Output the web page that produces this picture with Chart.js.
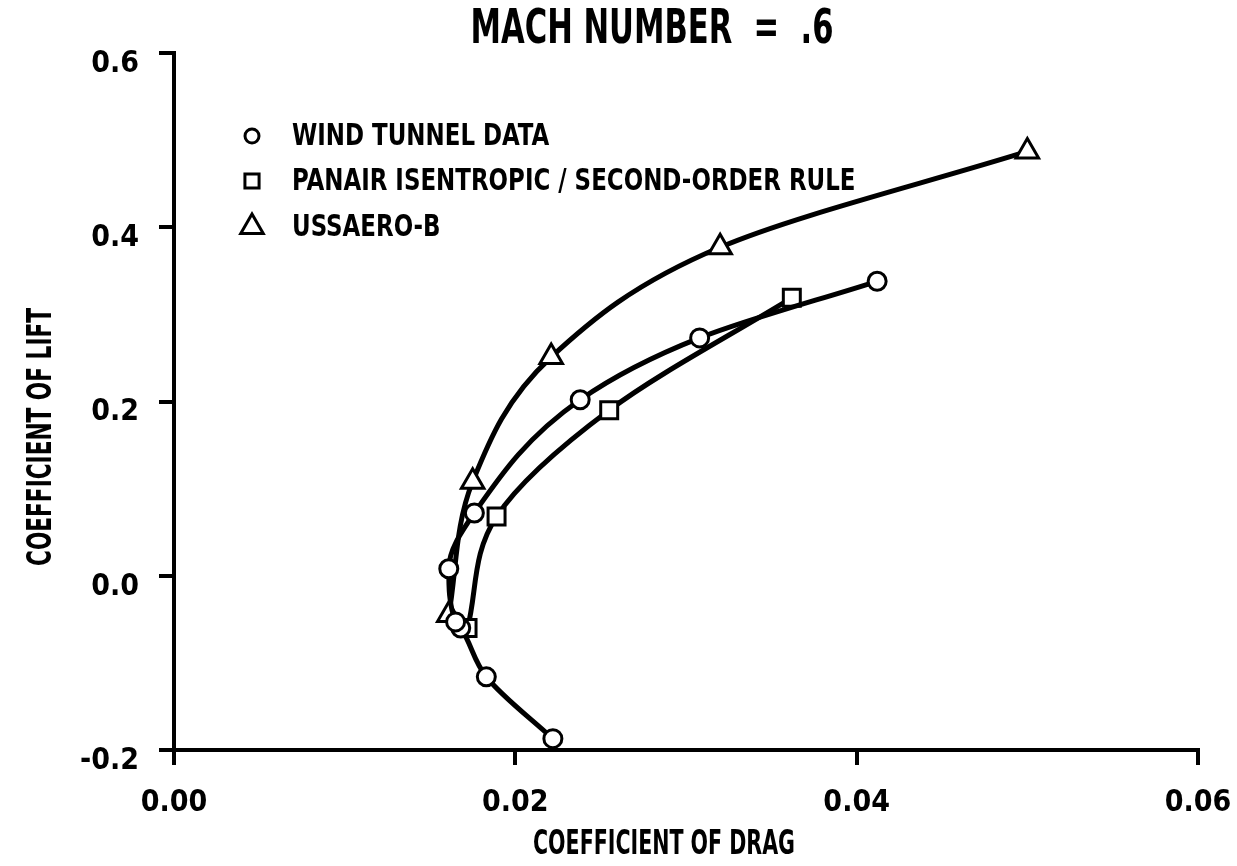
<!DOCTYPE html>
<html>
<head>
<meta charset="utf-8">
<script src="https://cdn.jsdelivr.net/npm/chart.js@4.4.1/dist/chart.umd.min.js"></script>
<style>
  html, body { margin: 0; padding: 0; background: #fff; }
  #wrap { width: 1237px; height: 866px; }
</style>
</head>
<body>
<div id="wrap"><canvas id="c" width="1237" height="866"></canvas></div>
<script>
// ---- data ----
const windTunnelCd = [0.0222, 0.0183, 0.0168, 0.0165, 0.0161, 0.0176, 0.0238, 0.0308, 0.0412];
const windTunnelCl = [-0.187, -0.116, -0.060, -0.053, 0.008, 0.072, 0.202, 0.273, 0.338];

const panairCd = [0.0172, 0.0189, 0.0255, 0.0362];
const panairCl = [-0.060, 0.068, 0.190, 0.319];

const ussaeroCd = [0.0161, 0.0175, 0.0221, 0.0320, 0.0500];
const ussaeroCl = [-0.045, 0.108, 0.251, 0.377, 0.487];

const seriesNames = ['WIND TUNNEL DATA', 'PANAIR ISENTROPIC / SECOND-ORDER RULE', 'USSAERO-B'];

const xTicks = [0.00, 0.02, 0.04, 0.06];
const xTickLabels = ['0.00', '0.02', '0.04', '0.06'];
const yTicks = [-0.2, 0.0, 0.2, 0.4, 0.6];
const yTickLabels = ['-0.2', '0.0', '0.2', '0.4', '0.6'];

const titleText = 'MACH NUMBER  =  .6';
const xTitle = 'COEFFICIENT OF DRAG';
const yTitle = 'COEFFICIENT OF LIFT';

// ---- helpers ----
const FONT = "'DejaVu Sans Condensed', 'DejaVu Sans', sans-serif";
const zip = (xs, ys) => xs.map((x, i) => ({ x: x, y: ys[i] }));

function mkSet(label, xs, ys, style, r) {
  return {
    label: label,
    data: zip(xs, ys),
    showLine: true,
    borderColor: '#000',
    borderWidth: 5,
    tension: 0.4,
    cubicInterpolationMode: 'monotone',
    pointStyle: style,
    pointRadius: r,
    pointHoverRadius: r,
    pointBackgroundColor: '#fff',
    pointBorderColor: '#000',
    pointBorderWidth: 3,
    fill: false
  };
}

const datasets = [
  mkSet(seriesNames[0], windTunnelCd, windTunnelCl, 'circle', 9),
  mkSet(seriesNames[1], panairCd, panairCl, 'rect', 12),
  mkSet(seriesNames[2], ussaeroCd, ussaeroCl, 'triangle', 13)
];

// draw text horizontally compressed to a given width (condensed look)
function squeezeText(ctx, text, x, y, px, width) {
  ctx.font = "bold " + px + "px " + FONT;
  const w = ctx.measureText(text).width;
  const sx = width / w;
  ctx.save();
  ctx.translate(x, y);
  ctx.scale(sx, 1);
  ctx.fillText(text, 0, 0);
  ctx.restore();
}

const textPlugin = {
  id: 'texts',
  afterDraw(chart) {
    const ctx = chart.ctx;
    ctx.save();
    ctx.fillStyle = '#000';
    ctx.textAlign = 'center';
    ctx.textBaseline = 'middle';
    // title
    squeezeText(ctx, titleText, 652, 31, 48, 363);
    // x title
    squeezeText(ctx, xTitle, 664, 845, 34, 262);
    // y title
    ctx.save();
    ctx.translate(42, 437);
    ctx.rotate(-Math.PI / 2);
    squeezeText(ctx, yTitle, 0, 0, 34, 258);
    ctx.restore();
    // legend
    const rows = [136, 181, 227];
    chart.data.datasets.forEach((ds, i) => {
      ctx.save();
      ctx.fillStyle = '#fff';
      ctx.strokeStyle = '#000';
      ctx.lineWidth = 3;
      const r = ds.pointStyle === 'triangle' ? 13 : (ds.pointStyle === 'rect' ? 10 : 7);
      Chart.helpers.drawPoint(ctx, { pointStyle: ds.pointStyle, radius: r, borderWidth: 3, rotation: 0 }, 252, rows[i]);
      ctx.restore();
      ctx.save();
      ctx.textAlign = 'left';
      ctx.font = "bold 30px " + FONT;
      const w = ctx.measureText(ds.label).width;
      squeezeText(ctx, ds.label, 292, rows[i] + 1, 30, w * 0.85);
      ctx.restore();
    });
    ctx.restore();
  }
};

new Chart(document.getElementById('c'), {
  type: 'scatter',
  data: { datasets: datasets },
  plugins: [textPlugin],
  options: {
    responsive: false,
    animation: false,
    devicePixelRatio: 1,
    indexAxis: 'y',
    layout: { padding: { left: 0, top: 53, right: 39, bottom: 0 } },
    plugins: { legend: { display: false }, tooltip: { enabled: false }, title: { display: false } },
    scales: {
      x: {
        type: 'linear',
        position: 'bottom',
        min: xTicks[0],
        max: xTicks[xTicks.length - 1],
        afterFit(s) { s.height = 116; s.paddingLeft = 0; s.paddingRight = 0; },
        afterBuildTicks(s) { s.ticks = xTicks.map(v => ({ value: v })); },
        ticks: {
          color: '#000',
          padding: 20,
          font: { family: FONT, size: 30, weight: 'bold' },
          callback: (v, i) => xTickLabels[i],
          maxRotation: 0
        },
        grid: { display: true, drawOnChartArea: false, drawTicks: true, tickLength: 15, color: '#000', lineWidth: 4 },
        border: { display: true, color: '#000', width: 4 }
      },
      y: {
        type: 'linear',
        position: 'left',
        min: yTicks[0],
        max: yTicks[yTicks.length - 1],
        afterFit(s) { s.width = 174; s.paddingTop = 0; s.paddingBottom = 0; },
        afterBuildTicks(s) { s.ticks = yTicks.map(v => ({ value: v })); },
        ticks: {
          color: '#000',
          padding: 20,
          labelOffset: 11,
          font: { family: FONT, size: 30, weight: 'bold' },
          callback: (v, i) => yTickLabels[i]
        },
        grid: { display: true, drawOnChartArea: false, drawTicks: true, tickLength: 15, color: '#000', lineWidth: 4 },
        border: { display: true, color: '#000', width: 4 }
      }
    }
  }
});
</script>
</body>
</html>
